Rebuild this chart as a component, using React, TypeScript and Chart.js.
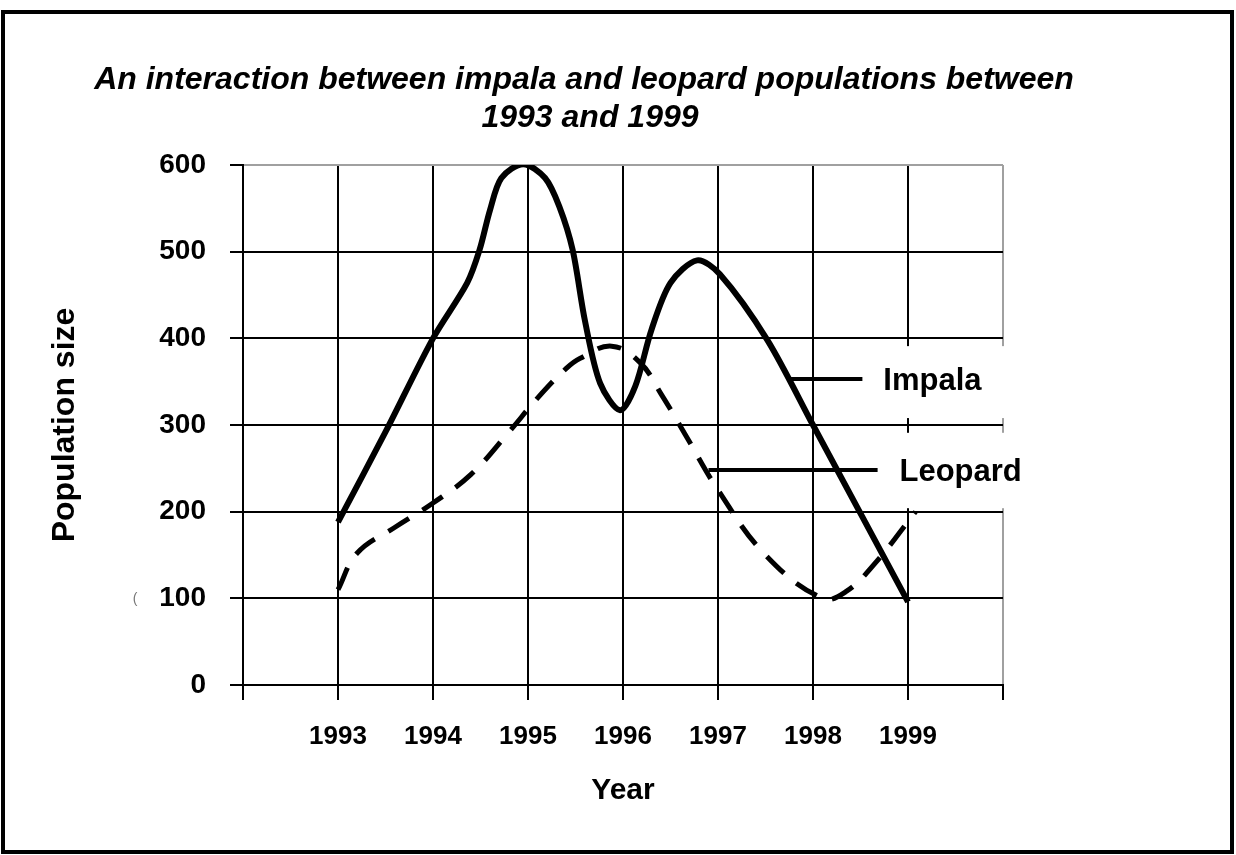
import { useEffect, useRef } from 'react';
import { Chart, registerables } from 'chart.js';

Chart.register(...registerables);

const TITLE_LINES = ['An interaction between impala and leopard populations between', '1993 and 1999'];
const X_TITLE = 'Year';
const Y_TITLE = 'Population size';
const SERIES_NAMES = ['Impala', 'Leopard'];

const X_MIN = 1992;
const X_MAX = 2000;
const LABELLED_YEARS = [1993, 1994, 1995, 1996, 1997, 1998, 1999];
const Y_MIN = 0;
const Y_MAX = 600;
const Y_STEP = 100;

const impalaYears = [1993, 1993.5, 1994, 1994.36, 1994.49, 1994.6, 1994.72, 1994.95, 1995.18, 1995.33, 1995.47, 1995.6, 1995.76, 1995.97, 1996.13, 1996.3, 1996.5, 1996.78, 1997.02, 1997.52, 1998, 1999];
const impalaValues = [188, 292, 400, 464, 502, 548, 585, 601, 585, 552, 502, 420, 348, 317, 345, 410, 464, 490, 474, 398, 300, 96];

const leopardYears = [1993, 1993.2, 1993.6, 1994, 1994.4, 1994.8, 1995.1, 1995.4, 1995.55, 1995.88, 1996.18, 1996.4, 1996.65, 1997, 1997.5, 1998.1, 1998.35, 1998.65, 1999.08];
const leopardValues = [110, 152, 182, 210, 243, 292, 331, 365, 377, 391, 372, 336, 290, 225, 150, 100, 108, 140, 200];

const FONT = "'Liberation Sans', Arial, sans-serif";

const pagePlugin = {
  id: 'pageDecor',
  beforeDraw(chart: any) {
    const { ctx } = chart;
    ctx.save();
    ctx.fillStyle = '#fff';
    ctx.fillRect(0, 0, chart.width, chart.height);
    ctx.restore();
  },
  afterDatasetsDraw(chart: any) {
    const { ctx } = chart;
    const x = chart.scales.x;
    const y = chart.scales.y;
    ctx.save();
    ctx.fillStyle = '#fff';
    const bx1 = x.getPixelForValue(1998.72);
    ctx.fillRect(bx1, y.getPixelForValue(391), 145, y.getPixelForValue(308) - y.getPixelForValue(391));
    const bx2 = x.getPixelForValue(1998.88);
    ctx.fillRect(bx2, y.getPixelForValue(291), 150, y.getPixelForValue(204) - y.getPixelForValue(291));

    ctx.strokeStyle = '#000';
    ctx.lineWidth = 4;
    ctx.beginPath();
    const iy = y.getPixelForValue(353);
    ctx.moveTo(x.getPixelForValue(1997.75), iy);
    ctx.lineTo(x.getPixelForValue(1998.52), iy);
    const ly = y.getPixelForValue(248);
    ctx.moveTo(x.getPixelForValue(1996.9), ly);
    ctx.lineTo(x.getPixelForValue(1998.68), ly);
    ctx.stroke();

    ctx.fillStyle = '#000';
    ctx.font = `bold 31px ${FONT}`;
    ctx.textAlign = 'left';
    ctx.textBaseline = 'alphabetic';
    ctx.fillText(SERIES_NAMES[0], x.getPixelForValue(1998.74), y.getPixelForValue(340));
    ctx.fillText(SERIES_NAMES[1], x.getPixelForValue(1998.91), y.getPixelForValue(235));
    ctx.restore();
  },
  afterDraw(chart: any) {
    const { ctx } = chart;
    ctx.save();
    ctx.strokeStyle = '#000';
    ctx.lineWidth = 4;
    ctx.strokeRect(3, 12, 1229, 840);
    ctx.fillStyle = '#000';
    ctx.font = `italic bold 32px ${FONT}`;
    ctx.textAlign = 'center';
    ctx.textBaseline = 'alphabetic';
    ctx.fillText(TITLE_LINES[0], 584, 89);
    ctx.fillText(TITLE_LINES[1], 590, 127);
    ctx.fillStyle = '#777';
    ctx.font = `14px ${FONT}`;
    ctx.fillText('(', 135, 603);
    ctx.restore();
  },
};

export default function App() {
  const ref = useRef<HTMLCanvasElement | null>(null);
  useEffect(() => {
    if (!ref.current) return;
    const chart = new Chart(ref.current, {
      type: 'line',
      data: {
        datasets: [
          {
            label: SERIES_NAMES[0],
            data: impalaYears.map((yr, i) => ({ x: yr, y: impalaValues[i] })),
            borderColor: '#000',
            borderWidth: 6,
            pointRadius: 0,
            tension: 0.3,
            fill: false,
          },
          {
            label: SERIES_NAMES[1],
            data: leopardYears.map((yr, i) => ({ x: yr, y: leopardValues[i] })),
            borderColor: '#000',
            borderWidth: 5,
            borderDash: [24, 16],
            pointRadius: 0,
            tension: 0.4,
            fill: false,
          },
        ],
      },
      options: {
        animation: false,
        responsive: false,
        devicePixelRatio: 1,
        layout: { padding: { top: 165, right: 233, left: 0, bottom: 0 } },
        plugins: { legend: { display: false }, tooltip: { enabled: false }, title: { display: false } },
        scales: {
          x: {
            type: 'linear',
            min: X_MIN,
            max: X_MAX,
            afterFit: (s: any) => { s.height = 170; },
            afterBuildTicks: (s: any) => {
              const t = [];
              for (let v = X_MIN; v <= X_MAX; v++) t.push({ value: v });
              s.ticks = t;
            },
            ticks: {
              stepSize: 1,
              autoSkip: false,
              maxRotation: 0,
              padding: 21,
              color: '#000',
              font: { family: FONT, weight: 'bold', size: 26 },
              callback: (v: any) => (LABELLED_YEARS.includes(Number(v)) ? String(v) : ''),
            },
            grid: {
              color: (c: any) => (c.tick && c.tick.value === X_MAX ? '#a0a0a0' : '#000'),
              tickColor: '#000',
              lineWidth: 2,
              tickLength: 15,
            },
            border: { display: true, color: '#000', width: 2 },
            title: {
              display: true,
              text: X_TITLE,
              color: '#000',
              font: { family: FONT, weight: 'bold', size: 30 },
              padding: { top: 0, bottom: 46 },
            },
          },
          y: {
            type: 'linear',
            min: Y_MIN,
            max: Y_MAX,
            afterFit: (s: any) => { s.width = 243; },
            ticks: {
              stepSize: Y_STEP,
              padding: 24,
              color: '#000',
              font: { family: FONT, weight: 'bold', size: 28 },
            },
            grid: {
              color: (c: any) => (c.tick && c.tick.value === Y_MAX ? '#a0a0a0' : '#000'),
              tickColor: '#000',
              lineWidth: 2,
              tickLength: 13,
            },
            border: { display: true, color: '#000', width: 2 },
            title: {
              display: true,
              text: Y_TITLE,
              color: '#000',
              font: { family: FONT, weight: 'bold', size: 32 },
              padding: { top: 46, bottom: 0 },
            },
          },
        },
      },
      plugins: [pagePlugin],
    } as any);
    return () => chart.destroy();
  }, []);
  return (
    <div style={{ position: 'absolute', left: 0, top: 0, width: 1236, height: 855 }}>
      <canvas ref={ref} width={1236} height={855} />
    </div>
  );
}
